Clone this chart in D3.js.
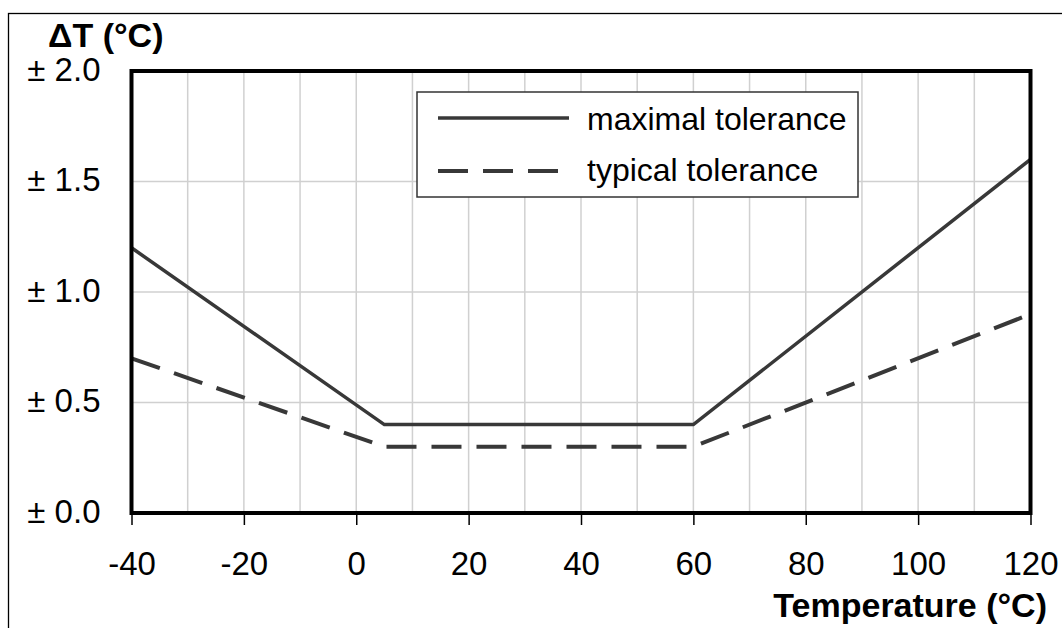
<!DOCTYPE html>
<html>
<head>
<meta charset="utf-8">
<script src="https://cdn.jsdelivr.net/npm/d3@7"></script>
<style>
  body { margin: 0; background: #fff; }
  svg { display: block; font-family: "Liberation Sans", Arial, sans-serif; }
</style>
</head>
<body>
<div id="chart"></div>
<script>
// data
const temps = [-40, 5, 60, 120];
const maxTol = [1.2, 0.4, 0.4, 1.6];
const typTol = [0.7, 0.3, 0.3, 0.9];
const xTicks = [-40, -20, 0, 20, 40, 60, 80, 100, 120];
const xGrid = d3.range(-40, 121, 10);
const yTicks = [0, 0.5, 1.0, 1.5, 2.0];
const seriesNames = ["maximal tolerance", "typical tolerance"];

const W = 1062, H = 628;
const plot = {left: 131.5, right: 1030.5, top: 71, bottom: 513};
const LINE_COLOR = "#383838";

const x = d3.scaleLinear().domain([-40, 120]).range([plot.left, plot.right]);
const y = d3.scaleLinear().domain([0, 2]).range([plot.bottom, plot.top]);

const svg = d3.select("#chart").append("svg")
    .attr("width", W)
    .attr("height", H);

// outer frame (runs off the right and bottom edge)
svg.append("rect")
    .attr("x", 8.5).attr("y", 13.5)
    .attr("width", W).attr("height", H)
    .attr("fill", "none")
    .attr("stroke", "#000")
    .attr("stroke-width", 1.3);

// grid
svg.append("g")
  .selectAll("line")
  .data(xGrid)
  .join("line")
    .attr("x1", (d) => x(d)).attr("x2", (d) => x(d))
    .attr("y1", plot.top).attr("y2", plot.bottom)
    .attr("stroke", "#d0d0d0")
    .attr("stroke-width", 1.5);

svg.append("g")
  .selectAll("line")
  .data(yTicks)
  .join("line")
    .attr("x1", plot.left).attr("x2", plot.right)
    .attr("y1", (d) => y(d)).attr("y2", (d) => y(d))
    .attr("stroke", "#d0d0d0")
    .attr("stroke-width", 1.5);

// x axis
const xAxis = d3.axisBottom(x)
    .tickValues(xTicks)
    .tickSize(12)
    .tickPadding(27)
    .tickFormat((d) => d);

const gx = svg.append("g")
    .attr("transform", "translate(0," + plot.bottom + ")")
    .call(xAxis);
gx.select(".domain").remove();
gx.selectAll(".tick line").attr("stroke", "#000").attr("stroke-width", 1.5);
gx.selectAll(".tick text")
    .attr("font-size", 33)
    .attr("font-family", "Liberation Sans, Arial, sans-serif")
    .attr("fill", "#000");

// y axis labels
const yAxis = d3.axisLeft(y)
    .tickValues(yTicks)
    .tickSize(0)
    .tickPadding(31)
    .tickFormat((d) => "\u00b1 " + d3.format(".1f")(d));

const gy = svg.append("g")
    .attr("transform", "translate(" + plot.left + ",0)")
    .call(yAxis);
gy.select(".domain").remove();
gy.selectAll(".tick text")
    .attr("font-size", 33)
    .attr("font-family", "Liberation Sans, Arial, sans-serif")
    .attr("dy", "0.28em")
    .attr("fill", "#000");

// lines
const line = d3.line()
    .x((d) => x(d[0]))
    .y((d) => y(d[1]));

svg.append("path")
    .attr("d", line(temps.map((t, i) => [t, maxTol[i]])))
    .attr("fill", "none")
    .attr("stroke", LINE_COLOR)
    .attr("stroke-width", 3.5);

svg.append("path")
    .attr("d", line(temps.map((t, i) => [t, typTol[i]])))
    .attr("fill", "none")
    .attr("stroke", LINE_COLOR)
    .attr("stroke-width", 4)
    .attr("stroke-dasharray", "30,15");

// plot frame
svg.append("rect")
    .attr("x", plot.left).attr("y", plot.top)
    .attr("width", plot.right - plot.left)
    .attr("height", plot.bottom - plot.top)
    .attr("fill", "none")
    .attr("stroke", "#000")
    .attr("stroke-width", 4);

// axis titles
svg.append("text")
    .attr("x", 48).attr("y", 47)
    .attr("font-size", 34)
    .attr("font-weight", "bold")
    .text("\u0394T (\u00b0C)");

svg.append("text")
    .attr("x", 1047).attr("y", 617)
    .attr("text-anchor", "end")
    .attr("font-size", 34)
    .attr("font-weight", "bold")
    .text("Temperature (\u00b0C)");

// legend
const legend = svg.append("g");
legend.append("rect")
    .attr("x", 417).attr("y", 92)
    .attr("width", 441).attr("height", 105)
    .attr("fill", "#fff")
    .attr("stroke", "#333")
    .attr("stroke-width", 1.5);

legend.append("line")
    .attr("x1", 438).attr("x2", 569)
    .attr("y1", 118).attr("y2", 118)
    .attr("stroke", LINE_COLOR)
    .attr("stroke-width", 3.5);

legend.append("line")
    .attr("x1", 438).attr("x2", 558)
    .attr("y1", 171).attr("y2", 171)
    .attr("stroke", LINE_COLOR)
    .attr("stroke-width", 4)
    .attr("stroke-dasharray", "30,15");

legend.selectAll("text.lbl")
  .data(seriesNames)
  .join("text")
    .attr("class", "lbl")
    .attr("x", 587)
    .attr("y", (d, i) => 130 + i * 51)
    .attr("font-size", 32)
    .attr("fill", "#000")
    .text((d) => d);
</script>
</body>
</html>
